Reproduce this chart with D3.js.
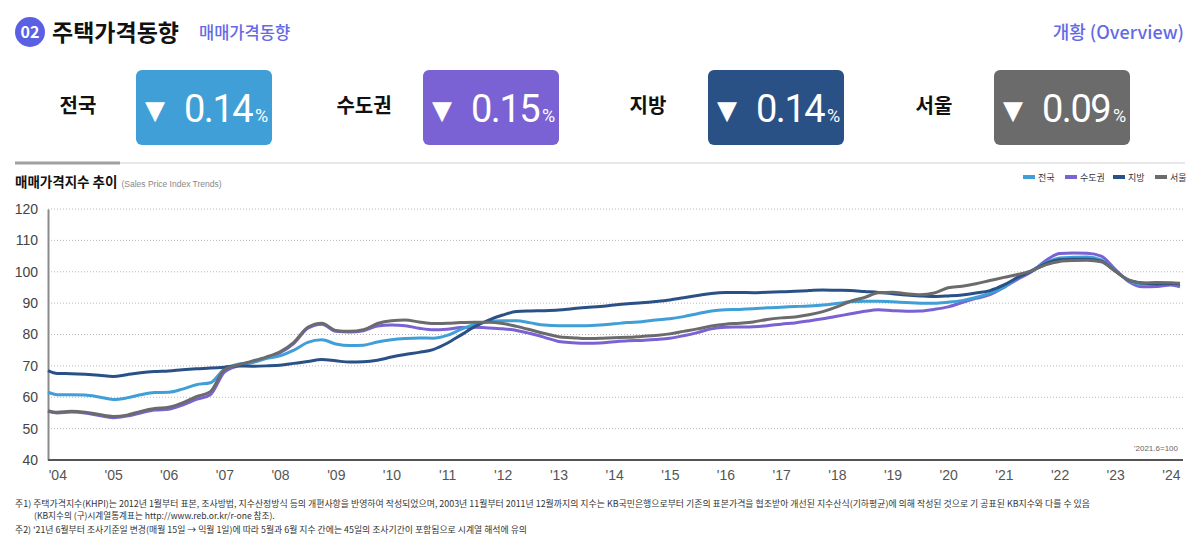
<!DOCTYPE html>
<html>
<head>
<meta charset="utf-8">
<script src="https://cdn.jsdelivr.net/npm/d3@7"></script>
<style>
  body { margin:0; background:#fff; }
  svg { display:block; font-family:"Noto Sans CJK KR","Noto Sans",sans-serif; }
</style>
</head>
<body>
<svg id="chart"></svg>
<script>
// regions shown in cards and legend
var regions = ["전국","수도권","지방","서울"];
var regionColors = ["#3f9fd6","#7a62d4","#2a5186","#6b6b6b"];
var changes = ["0.14","0.15","0.14","0.09"];

// y ticks and x labels
var yTicks = [40,50,60,70,80,90,100,110,120];
var yearTicks = [2004,2005,2006,2007,2008,2009,2010,2011,2012,2013,2014,2015,2016,2017,2018,2019,2020,2021,2022,2023,2024];
var yearLabels = ["'04","'05","'06","'07","'08","'09","'10","'11","'12","'13","'14","'15","'16","'17","'18","'19","'20","'21","'22","'23","'24"];

// first month 2003.11, then quarterly from 2004.01 to 2024.01, last 2024.03
var firstMonth = "2003-11", lastMonth = "2024-03";

// index values (2021.6 = 100)
var nation = [61.6,60.8,60.8,60.7,60.1,59.3,59.8,60.8,61.5,61.6,62.6,64.0,64.6,69.0,70.5,71.0,72.3,73.2,75.0,77.5,78.3,77.0,76.5,76.6,77.6,78.3,78.7,78.9,78.8,79.7,81.6,83.2,84.1,84.4,84.4,83.7,83.0,82.8,82.8,82.8,83.0,83.4,83.8,84.1,84.6,85.0,85.7,86.6,87.5,87.9,88.0,88.2,88.5,88.7,88.9,89.1,89.4,89.9,90.4,90.6,90.6,90.4,90.2,90.0,90.0,90.3,90.8,91.8,93.2,95.0,98.2,100.4,102.8,104.4,104.6,104.7,103.8,100.3,97.2,96.0,96.1,96.0,95.8];
var capital = [55.5,55.0,55.3,55.0,54.2,53.5,54.0,55.0,55.9,56.2,57.5,59.3,60.8,68.0,70.0,71.3,72.5,74.2,77.2,82.0,83.3,81.0,80.8,81.2,82.7,83.0,82.8,82.0,81.5,81.7,82.2,82.3,82.1,81.8,81.3,80.3,79.1,77.8,77.4,77.2,77.3,77.7,78.0,78.1,78.4,78.8,79.6,80.6,81.8,82.3,82.4,82.5,82.8,83.3,83.7,84.3,85.0,85.8,86.6,87.4,87.9,87.6,87.4,87.5,88.0,88.8,90.2,91.5,92.7,95.0,97.6,100.0,103.5,105.8,106.0,105.9,105.0,100.8,96.8,95.2,95.3,95.8,95.2];
var local = [68.5,67.6,67.5,67.3,67.0,66.6,67.2,67.8,68.2,68.4,68.8,69.1,69.3,69.6,70.0,69.9,70.0,70.2,70.8,71.4,72.0,71.6,71.2,71.3,71.8,72.8,73.6,74.3,75.2,77.2,79.8,82.5,84.6,86.2,87.3,87.5,87.6,87.8,88.2,88.6,88.9,89.4,89.8,90.1,90.5,91.0,91.7,92.4,93.1,93.4,93.4,93.3,93.5,93.6,93.8,94.0,94.2,94.1,94.0,93.7,93.4,93.0,92.6,92.3,92.1,92.3,92.6,93.2,94.0,95.8,98.2,100.2,102.6,103.8,104.0,104.0,103.4,100.2,97.3,96.4,96.1,96.2,96.1];
var seoul = [55.7,55.2,55.5,55.2,54.5,53.9,54.3,55.5,56.4,56.8,58.2,60.2,61.8,68.8,70.3,71.5,72.8,74.5,77.5,82.3,83.6,81.3,81.0,81.5,83.5,84.4,84.6,84.0,83.5,83.6,83.8,83.9,83.9,83.5,82.6,81.5,80.3,79.3,79.0,78.7,78.8,79.0,79.1,79.4,79.7,80.2,81.0,81.8,82.7,83.3,83.6,84.0,84.8,85.3,85.6,86.3,87.3,88.8,90.6,91.8,93.3,93.5,93.0,92.7,93.2,94.9,95.4,96.2,97.2,98.2,99.1,100.3,102.2,103.3,103.6,103.7,103.2,100.2,97.3,96.4,96.6,96.5,96.3];

var notes = [
  "주1) 주택가격지수(KHPI)는 2012년 1월부터 표본, 조사방법, 지수산정방식 등의 개편사항을 반영하여 작성되었으며, 2003년 11월부터 2011년 12월까지의 지수는 KB국민은행으로부터 기존의 표본가격을 협조받아 개선된 지수산식(기하평균)에 의해 작성된 것으로 기 공표된 KB지수와 다를 수 있음",
  "(KB지수의 (구)시계열통계표는 http://www.reb.or.kr/r-one 참조).",
  "주2) '21년 6월부터 조사기준일 변경(매월 15일 → 익월 1일)에 따라 5월과 6월 지수 간에는 45일의 조사기간이 포함됨으로 시계열 해석에 유의"
];

var parseMonth = d3.timeParse("%Y-%m");
var dates = [parseMonth(firstMonth)]
  .concat(d3.timeMonth.every(3).range(parseMonth("2004-01"), parseMonth("2024-02")))
  .concat([parseMonth(lastMonth)]);

var series = [
  {name:"수도권", values:capital, color:regionColors[1]},
  {name:"전국", values:nation, color:regionColors[0]},
  {name:"지방", values:local, color:regionColors[2]},
  {name:"서울", values:seoul, color:regionColors[3]}
];

var screen = {width:1200, height:541};
var plot = {left:48, right:1180, top:209, bottom:460};

var svg = d3.select("#chart")
  .attr("width", screen.width)
  .attr("height", screen.height);

// header
svg.append("circle").attr("cx",30).attr("cy",32).attr("r",15).attr("fill","#5b5fe3");
svg.append("text").attr("x",30).attr("y",38).attr("text-anchor","middle")
  .attr("fill","#fff").attr("font-size",16).attr("font-weight",700).text("02");
svg.append("text").attr("x",52).attr("y",41).attr("font-size",23).attr("font-weight",700)
  .attr("fill","#111").text("주택가격동향");
svg.append("text").attr("x",199).attr("y",39).attr("font-size",16.5).attr("font-weight",500)
  .attr("fill","#6469e4").text("매매가격동향");
svg.append("text").attr("x",1184).attr("y",39).attr("text-anchor","end").attr("font-size",18)
  .attr("font-weight",500).attr("fill","#6469e4").text("개황 (Overview)");

// cards
var cardX = [136,423,708,994];
var labelX = [78,364,648,934];
var cards = svg.append("g").selectAll("g").data(regions).enter().append("g");
cards.append("text")
  .attr("x", function(d,i){ return labelX[i]; })
  .attr("y", 113).attr("text-anchor","middle")
  .attr("font-size",20).attr("font-weight",700).attr("fill","#111")
  .text(function(d){ return d; });
cards.append("rect")
  .attr("x", function(d,i){ return cardX[i]; })
  .attr("y",70).attr("width",136).attr("height",75).attr("rx",6)
  .attr("fill", function(d,i){ return regionColors[i]; });
cards.append("text")
  .attr("x", function(d,i){ return cardX[i]+19; })
  .attr("y",119).attr("text-anchor","middle").attr("fill","#fff")
  .attr("font-size",26).attr("font-family","DejaVu Sans").text("▼");
var val = cards.append("text")
  .attr("x", function(d,i){ return cardX[i]+48; })
  .attr("y",122).attr("fill","#fff").attr("font-family","Roboto");
val.append("tspan").attr("font-size",38).attr("font-weight",400).attr("letter-spacing",-1.5)
  .text(function(d,i){ return changes[i]; });
val.append("tspan").attr("font-size",18).attr("dx",3)
  .text("%");

// separator and chart title
svg.append("line").attr("x1",15).attr("x2",1185).attr("y1",163).attr("y2",163)
  .attr("stroke","#d0d0d0").attr("stroke-width",1);
svg.append("line").attr("x1",15).attr("x2",120).attr("y1",163).attr("y2",163)
  .attr("stroke","#a0a0a0").attr("stroke-width",3);
var title = svg.append("text").attr("x",15).attr("y",187);
title.append("tspan").attr("font-size",13.5).attr("font-weight",700).attr("fill","#111").text("매매가격지수 추이");
title.append("tspan").attr("dx",4).attr("font-size",8.5).attr("fill","#888")
  .attr("font-family","Liberation Sans").text("(Sales Price Index Trends)");

// legend
var legendX = [1023,1065,1113,1155];
var legend = svg.append("g").selectAll("g").data(regions).enter().append("g")
  .attr("transform", function(d,i){ return "translate("+legendX[i]+",177)"; });
legend.append("line").attr("x1",0).attr("x2",12).attr("y1",0).attr("y2",0)
  .attr("stroke", function(d,i){ return regionColors[i]; }).attr("stroke-width",4);
legend.append("text").attr("x",15).attr("y",3.5).attr("font-size",9).attr("fill","#333")
  .text(function(d){ return d; });

// scales
var xScale = d3.scaleTime()
  .domain([dates[0], dates[dates.length-1]])
  .range([plot.left, plot.right]);
var yScale = d3.scaleLinear()
  .domain([40,120])
  .range([plot.bottom, plot.top]);

// gridlines
svg.append("g").selectAll("line").data(yTicks.slice(1)).enter().append("line")
  .attr("x1",plot.left).attr("x2",1185)
  .attr("y1", function(d){ return yScale(d); })
  .attr("y2", function(d){ return yScale(d); })
  .attr("stroke","#b8b8b8").attr("stroke-width",1).attr("stroke-dasharray","1,2");

// axes
var yAxis = svg.append("g")
  .attr("transform","translate("+plot.left+",0)")
  .call(d3.axisLeft(yScale).tickValues(yTicks).tickSize(0).tickPadding(10));
yAxis.select(".domain").attr("stroke","#8a8a8a").attr("stroke-width",2);
yAxis.selectAll("text").attr("font-size",14).attr("fill","#444")
  .attr("font-family","Liberation Sans");

var xAxis = svg.append("g")
  .attr("transform","translate(0,"+plot.bottom+")")
  .call(d3.axisBottom(xScale)
    .tickValues(yearTicks.map(function(y){ return new Date(y,0,1); }))
    .tickFormat(function(d,i){ return yearLabels[i]; })
    .tickSize(0).tickPadding(10));
xAxis.select(".domain").attr("stroke","#555").attr("stroke-width",2)
  .attr("d","M"+plot.left+",0H1183");
xAxis.selectAll("text").attr("font-size",14).attr("fill","#555")
  .attr("font-family","Liberation Sans");

svg.append("text").attr("x",1178).attr("y",451).attr("text-anchor","end")
  .attr("font-size",8).attr("fill","#666").attr("font-family","Liberation Sans")
  .text("'2021.6=100");

// lines
var line = d3.line()
  .x(function(d,i){ return xScale(dates[i]); })
  .y(function(d){ return yScale(d); })
  .curve(d3.curveMonotoneX);

svg.append("g").selectAll("path").data(series).enter().append("path")
  .attr("d", function(s){ return line(s.values); })
  .attr("fill","none")
  .attr("stroke", function(s){ return s.color; })
  .attr("stroke-width",3)
  .attr("stroke-linejoin","round");

// footnotes
svg.append("text").attr("x",15).attr("y",507).attr("font-size",8.6).attr("fill","#333")
  .attr("textLength",1075).attr("lengthAdjust","spacingAndGlyphs").text(notes[0]);
svg.append("text").attr("x",34).attr("y",519).attr("font-size",8.6).attr("fill","#333").text(notes[1]);
svg.append("text").attr("x",15).attr("y",533).attr("font-size",8.6).attr("fill","#333")
  .attr("textLength",512).attr("lengthAdjust","spacingAndGlyphs").text(notes[2]);
</script>
</body>
</html>
